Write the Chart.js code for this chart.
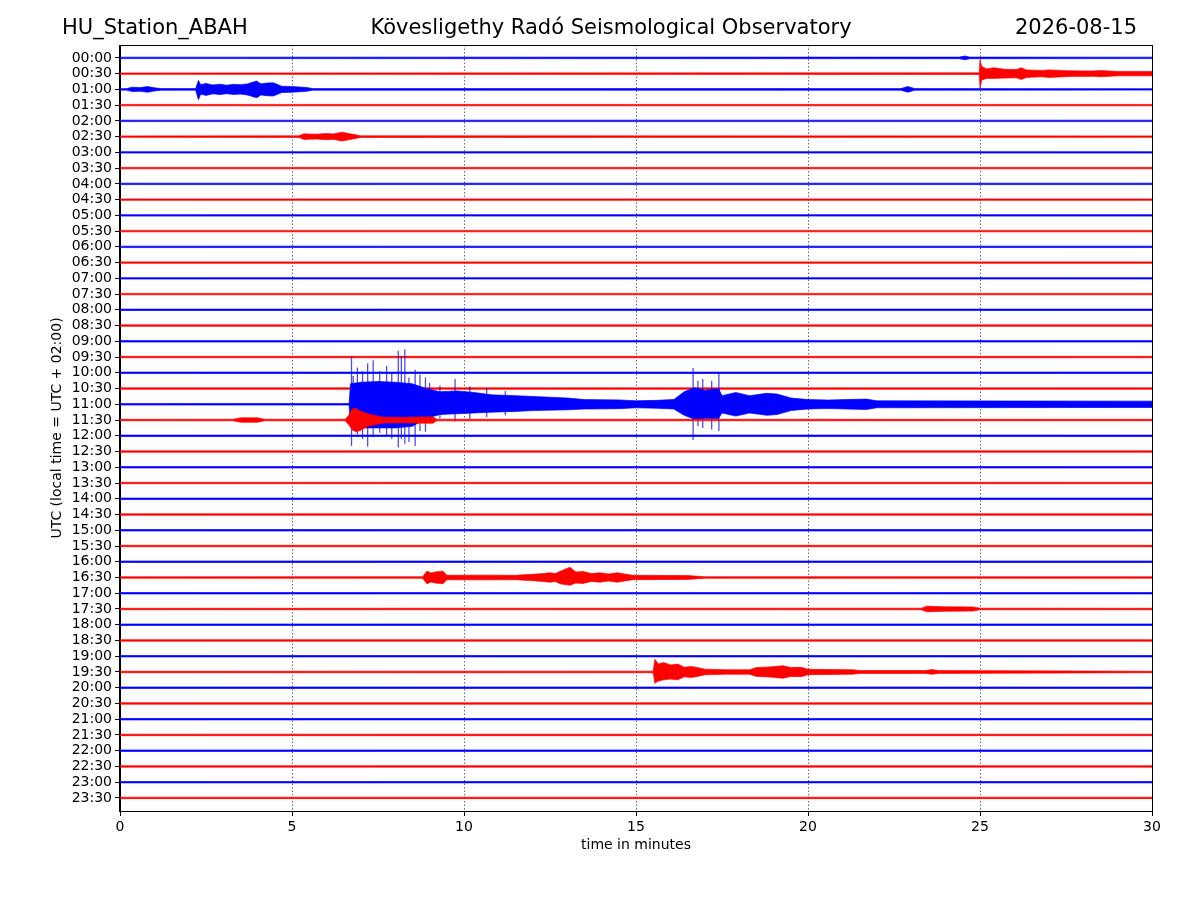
<!DOCTYPE html>
<html>
<head>
<meta charset="utf-8">
<title>HU_Station_ABAH helicorder</title>
<script src="https://cdn.jsdelivr.net/npm/chart.js@4.4.1/dist/chart.umd.min.js"></script>
<style>
    html, body { margin: 0; padding: 0; background: #ffffff; }
    canvas { display: block; }
</style>
</head>
<body>
<canvas id="helicorder" width="1200" height="900"></canvas>
<script>
// header texts
const stationName = "HU_Station_ABAH";
const observatoryName = "Kövesligethy Radó Seismological Observatory";
const dayText = "2026-08-15";
const yTitle = "UTC (local time = UTC + 02:00)";
const xTitle = "time in minutes";

// one trace per half hour, top to bottom
const traceLabels = [
    "00:00", "00:30", "01:00", "01:30", "02:00", "02:30", "03:00", "03:30",
    "04:00", "04:30", "05:00", "05:30", "06:00", "06:30", "07:00", "07:30",
    "08:00", "08:30", "09:00", "09:30", "10:00", "10:30", "11:00", "11:30",
    "12:00", "12:30", "13:00", "13:30", "14:00", "14:30", "15:00", "15:30",
    "16:00", "16:30", "17:00", "17:30", "18:00", "18:30", "19:00", "19:30",
    "20:00", "20:30", "21:00", "21:30", "22:00", "22:30", "23:00", "23:30"
];
const xTicks = [0, 5, 10, 15, 20, 25, 30];

// quiet background noise, half width in trace spacings
const baseNoise = 0.045;

// envelopes: [minute, up, down] in trace spacings (down defaults to up)
const ev0000 = [[24.4, 0.05], [24.56, 0.12], [24.7, 0.05]];
const ev0030 = [[24.98, 0.05], [25.0, 0.87, 0.9], [25.05, 0.45, 0.4], [25.2, 0.3], [25.4, 0.38, 0.3], [25.7, 0.28],
    [26.05, 0.26], [26.2, 0.37], [26.35, 0.24], [26.8, 0.2], [27.0, 0.24], [27.6, 0.18], [28.3, 0.17],
    [28.5, 0.2], [29.0, 0.14], [30, 0.14]];
const ev0100 = [[0.2, 0.05], [0.35, 0.14], [0.6, 0.12], [0.8, 0.18], [1.0, 0.1], [1.2, 0.05], [2.2, 0.05],
    [2.28, 0.57, 0.65], [2.35, 0.3], [2.5, 0.38], [2.7, 0.28], [2.9, 0.33], [3.1, 0.27], [3.3, 0.32],
    [3.5, 0.3], [3.7, 0.35], [3.97, 0.53], [4.1, 0.35], [4.25, 0.4], [4.45, 0.42], [4.6, 0.3], [4.7, 0.2],
    [5.0, 0.18], [5.43, 0.12], [5.6, 0.05], [22.7, 0.05], [22.9, 0.18], [23.1, 0.05]];
const ev0230 = [[5.2, 0.05], [5.35, 0.18], [5.7, 0.15], [6.0, 0.2], [6.2, 0.17], [6.45, 0.28], [6.8, 0.14], [7.0, 0.05]];
const ev1100 = [[6.66, 0.05], [6.7, 1.3, 1.4], [7.0, 1.4, 1.5], [7.5, 1.45, 1.5], [8.0, 1.4, 1.5], [8.5, 1.3, 1.4],
    [8.9, 1.0, 0.9], [9.3, 0.8, 0.65], [9.8, 0.85, 0.6], [10.3, 0.75, 0.55], [10.8, 0.6, 0.5], [11.5, 0.55, 0.45],
    [12.0, 0.5, 0.4], [13.0, 0.4, 0.35], [13.5, 0.3], [14.5, 0.28], [15.0, 0.22], [15.6, 0.25], [16.1, 0.3],
    [16.4, 0.8, 0.7], [16.7, 1.05, 0.95], [17.0, 0.9], [17.4, 1.0, 0.9], [17.5, 0.55], [17.9, 0.75],
    [18.3, 0.55], [18.8, 0.7], [19.1, 0.65], [19.5, 0.4], [20.0, 0.3], [20.6, 0.27], [21.1, 0.3],
    [21.7, 0.33], [22.0, 0.22], [30, 0.2]];
const ev1130 = [[3.3, 0.05], [3.5, 0.14], [4.0, 0.14], [4.2, 0.05], [6.55, 0.05], [6.65, 0.3], [6.75, 0.7, 0.6],
    [6.85, 0.75], [7.0, 0.55, 0.65], [7.15, 0.45], [7.27, 0.35], [7.45, 0.28], [7.65, 0.18], [8.3, 0.17],
    [8.7, 0.2], [9.1, 0.2], [9.2, 0.05]];
const ev1630 = [[8.8, 0.05], [8.92, 0.4], [9.05, 0.28], [9.15, 0.35], [9.39, 0.4], [9.5, 0.14], [10.5, 0.15],
    [11.5, 0.14], [12.0, 0.2], [12.3, 0.25], [12.5, 0.3], [12.65, 0.25], [12.8, 0.4], [13.08, 0.65, 0.5],
    [13.25, 0.35], [13.46, 0.38], [13.7, 0.25], [13.95, 0.3], [14.2, 0.22], [14.45, 0.3], [14.9, 0.14],
    [16.5, 0.12], [17.0, 0.05]];
const ev1730 = [[23.3, 0.05], [23.45, 0.18], [24.0, 0.14], [24.8, 0.13], [25.0, 0.05]];
const ev1930 = [[15.5, 0.05], [15.55, 0.8, 0.72], [15.65, 0.5, 0.57], [15.8, 0.6, 0.5], [16.0, 0.45], [16.22, 0.5],
    [16.4, 0.3], [16.6, 0.35], [16.86, 0.25], [17.0, 0.18], [17.6, 0.14], [18.3, 0.14], [18.5, 0.28],
    [18.9, 0.32], [19.27, 0.4], [19.5, 0.28], [19.8, 0.3], [20.0, 0.17], [21.3, 0.14], [21.5, 0.09],
    [23.4, 0.09], [23.6, 0.15], [23.8, 0.09]];

// single large swings of the 11:00 record: [minute, up, down]
const spk1100 = [[6.73, 3.0, 2.65], [6.78, 1.8, 1.7], [6.9, 2.33, 1.9], [7.05, 2.1, 2.2], [7.2, 2.6, 2.7],
    [7.36, 2.8, 2.1], [7.55, 2.1, 1.8], [7.75, 2.43, 2.0], [7.9, 2.0, 2.2], [8.09, 3.4, 2.75],
    [8.18, 3.07, 2.2], [8.28, 3.5, 2.5], [8.4, 1.7, 2.4], [8.58, 2.2, 2.65], [8.72, 1.9, 1.7],
    [8.88, 1.7, 1.75], [9.0, 1.35, 1.2], [9.3, 1.2, 0.9], [9.74, 1.6, 1.1], [10.17, 1.15, 0.95],
    [10.66, 1.05, 0.8], [11.2, 0.85, 0.7], [16.66, 2.3, 2.27], [16.8, 1.5, 1.4], [16.94, 1.6, 1.5],
    [17.2, 1.5, 1.6], [17.41, 2.0, 1.7]];

const traceEvents = {
    "00:00": ev0000, "00:30": ev0030, "01:00": ev0100, "02:30": ev0230,
    "11:00": ev1100, "11:30": ev1130, "16:30": ev1630, "17:30": ev1730, "19:30": ev1930
};
const traceSpikes = { "11:00": spk1100 };

const traceBlue = "#0000ff";
const traceRed = "#ff0000";
const axisFont = { family: "'DejaVu Sans', sans-serif", size: 14 };

function envelope(ev) {
    const pts = [[0, baseNoise]];
    if (ev) pts.push(...ev);
    if (pts[pts.length - 1][0] < 30) pts.push([30, baseNoise]);
    return pts;
}

const datasets = [];
traceLabels.forEach(function (label, i) {
    const color = i % 2 === 0 ? traceBlue : traceRed;
    const env = envelope(traceEvents[label]);
    // upper edge
    datasets.push({
        data: env.map(p => ({ x: p[0], y: i - p[1] })),
        borderColor: color, backgroundColor: color, borderWidth: 0.7,
        pointRadius: 0, fill: false, order: 100 - i
    });
    // lower edge, filled up to the upper one
    datasets.push({
        data: env.map(p => ({ x: p[0], y: i + (p[2] !== undefined ? p[2] : p[1]) })),
        borderColor: color, backgroundColor: color, borderWidth: 0.7,
        pointRadius: 0, fill: "-1", order: 100 - i
    });
    const spk = traceSpikes[label];
    if (spk) {
        const pts = [];
        spk.forEach(s => {
            pts.push({ x: s[0], y: i - s[1] }, { x: s[0], y: i + s[2] }, { x: s[0], y: null });
        });
        datasets.push({
            data: pts, borderColor: i % 2 === 0 ? "rgba(0,0,255,0.7)" : "rgba(255,0,0,0.7)",
            borderWidth: 1.3, pointRadius: 0, fill: false, spanGaps: false, order: 100 - i
        });
    }
});

// header line and plot frame
const headerPlugin = {
    id: "header",
    afterDraw(chart) {
        const ctx = chart.ctx;
        const a = chart.chartArea;
        ctx.save();
        ctx.fillStyle = "#000";
        ctx.font = "21px 'DejaVu Sans', sans-serif";
        ctx.textBaseline = "middle";
        ctx.textAlign = "left";
        ctx.fillText(stationName, 62, 29);
        ctx.textAlign = "center";
        ctx.fillText(observatoryName, 611, 29);
        ctx.textAlign = "right";
        ctx.fillText(dayText, 1137, 29);
        ctx.strokeStyle = "#000";
        ctx.lineWidth = 1;
        ctx.strokeRect(Math.round(a.left) - 0.5, Math.round(a.top) + 0.5,
            Math.round(a.right - a.left) + 1, Math.round(a.bottom - a.top));
        ctx.restore();
    }
};

new Chart(document.getElementById("helicorder"), {
    type: "line",
    data: { datasets: datasets },
    plugins: [headerPlugin],
    options: {
        responsive: false,
        animation: false,
        layout: { padding: { left: 0, right: 48, top: 45, bottom: 39 } },
        elements: { line: { tension: 0 } },
        plugins: {
            legend: { display: false },
            tooltip: { enabled: false },
            filler: { propagate: false }
        },
        scales: {
            x: {
                type: "linear", min: 0, max: 30,
                afterBuildTicks: s => { s.ticks = xTicks.map(v => ({ value: v })); },
                afterFit: s => { s.height = 50; },
                ticks: { color: "#000", font: axisFont, padding: 3, maxRotation: 0 },
                grid: {
                    color: "#444", lineWidth: 0.8, drawTicks: true, tickLength: 5,
                    tickColor: "#000", tickWidth: 1, tickBorderDash: []
                },
                border: { color: "#000", width: 1, dash: [1.5, 2] },
                title: { display: true, text: xTitle, color: "#000", font: axisFont, padding: { top: 0, bottom: 7.6 } }
            },
            y: {
                type: "linear", reverse: true, min: -0.82, max: 47.83,
                afterBuildTicks: s => { s.ticks = traceLabels.map((_, i) => ({ value: i })); },
                afterFit: s => { s.width = 120; },
                ticks: {
                    autoSkip: false, color: "#000", font: axisFont, padding: 3,
                    callback: v => traceLabels[v]
                },
                grid: { drawOnChartArea: false, drawTicks: true, tickLength: 5, tickColor: "#000", tickWidth: 1 },
                border: { color: "#000", width: 1 },
                title: { display: true, text: yTitle, color: "#000", font: axisFont, padding: { top: 49, bottom: 0 } }
            }
        }
    }
});
</script>
</body>
</html>
